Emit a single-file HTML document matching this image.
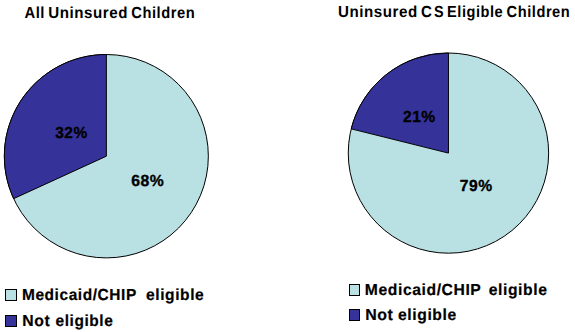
<!DOCTYPE html>
<html><head><meta charset="utf-8"><style>
html,body{margin:0;padding:0;background:#fff;width:575px;height:332px;overflow:hidden}
svg{display:block}
text{font-family:"Liberation Sans",sans-serif;font-weight:bold;font-size:16px;fill:#000;text-rendering:geometricPrecision}
.p{stroke:#000;stroke-width:0.35px}
.l{stroke:#000;stroke-width:0.2px}
</style></head><body>
<svg width="575" height="332" viewBox="0 0 575 332">
<rect width="575" height="332" fill="#fff"/>
<ellipse cx="106.35" cy="156.2" rx="102.0" ry="101.7" fill="#B9E0E3" stroke="#000" stroke-width="1"/>
<path d="M106.35 156.2 L106.35 54.50 A102.0 101.7 0 0 0 13.66 198.65 Z" fill="#35339A" stroke="#000" stroke-width="1" stroke-linejoin="miter"/>
<ellipse cx="448.45" cy="153.1" rx="100.2" ry="100.1" fill="#B9E0E3" stroke="#000" stroke-width="1"/>
<path d="M448.45 153.1 L448.45 53.00 A100.2 100.1 0 0 0 351.23 128.86 Z" fill="#35339A" stroke="#000" stroke-width="1" stroke-linejoin="miter"/>
<rect x="5.5" y="289.5" width="11" height="11" fill="#B9E0E3" stroke="#000" stroke-width="1"/>
<rect x="5.5" y="315.5" width="11" height="11" fill="#35339A" stroke="#000" stroke-width="1"/>
<rect x="349.5" y="284.5" width="10" height="11" fill="#B9E0E3" stroke="#000" stroke-width="1"/>
<rect x="349.5" y="309.5" width="10" height="11" fill="#35339A" stroke="#000" stroke-width="1"/>
<text transform="translate(24.45 18) scale(0.924 1)" letter-spacing="0.6">All</text>
<text transform="translate(48.16 18) scale(0.945 1)" letter-spacing="0.6">Uninsured</text>
<text transform="translate(131.29 18) scale(0.918 1)" letter-spacing="0.6">Children</text>
<text transform="translate(337.96 17) scale(0.945 1)" letter-spacing="0.6">Uninsured</text>
<text transform="translate(421.07 17) scale(0.941 1)" letter-spacing="0.6">C</text>
<text transform="translate(434.01 17) scale(0.902 1)" letter-spacing="0.6">S</text>
<text transform="translate(447.03 17) scale(0.910 1)" letter-spacing="0.6">Eligible</text>
<text transform="translate(506.59 17) scale(0.914 1)" letter-spacing="0.6">Children</text>
<text class="p" transform="translate(55.32 138) scale(0.963 1)" letter-spacing="0.5">32%</text>
<text class="p" transform="translate(131.20 186) scale(0.982 1)" letter-spacing="0.5">68%</text>
<text class="p" transform="translate(402.95 122) scale(0.977 1)" letter-spacing="0.5">21%</text>
<text class="p" transform="translate(459.83 191) scale(0.978 1)" letter-spacing="0.5">79%</text>
<text class="l" transform="translate(21.97 300) scale(0.966 1)" letter-spacing="0.6">Medicaid/CHIP</text>
<text class="l" transform="translate(146.07 300) scale(0.971 1)" letter-spacing="0.6">eligible</text>
<text class="l" transform="translate(22.25 326) scale(0.984 1)" letter-spacing="0.6">Not</text>
<text class="l" transform="translate(55.58 326) scale(0.964 1)" letter-spacing="0.6">eligible</text>
<text class="l" transform="translate(364.85 295) scale(0.980 1)" letter-spacing="0.6">Medicaid/CHIP</text>
<text class="l" transform="translate(488.76 295) scale(0.979 1)" letter-spacing="0.6">eligible</text>
<text class="l" transform="translate(365.14 320) scale(0.995 1)" letter-spacing="0.6">Not</text>
<text class="l" transform="translate(398.06 320) scale(0.979 1)" letter-spacing="0.6">eligible</text>
</svg>
</body></html>
